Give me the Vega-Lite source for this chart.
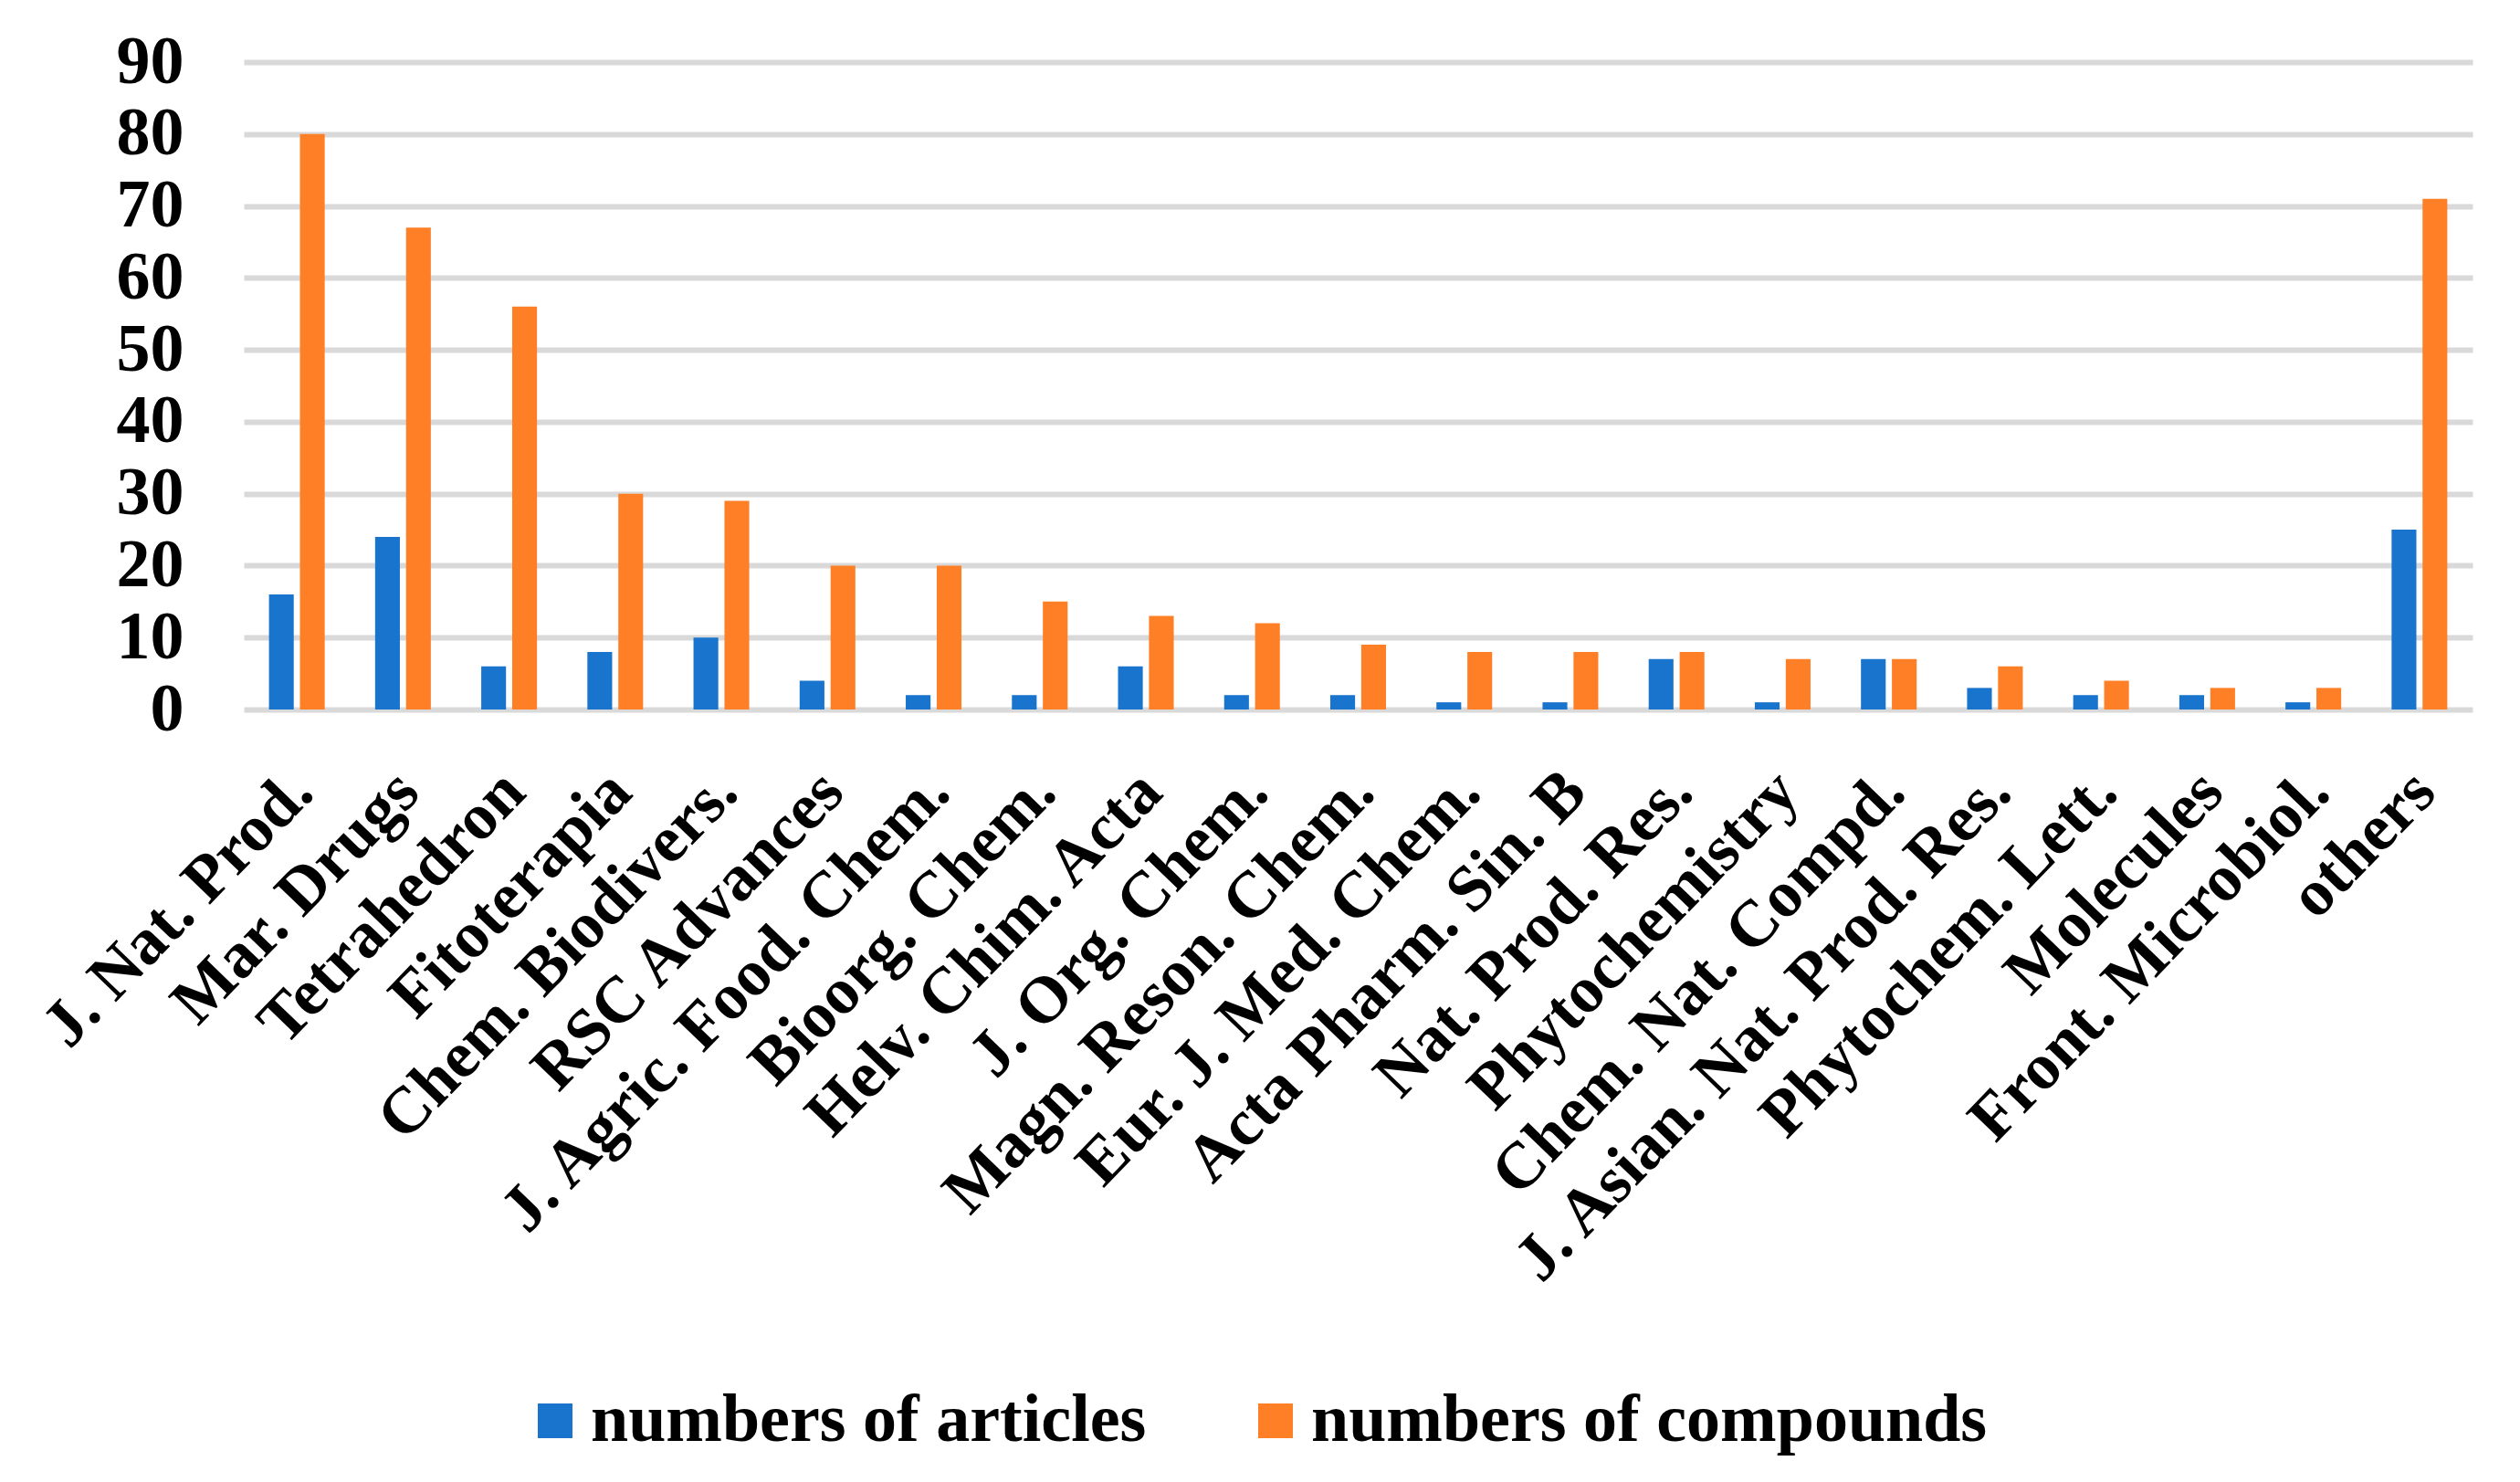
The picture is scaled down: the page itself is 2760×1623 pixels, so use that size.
{
  "$schema": "https://vega.github.io/schema/vega-lite/v6.json",
  "width": 2441,
  "height": 709,
  "autosize": {"type": "none"},
  "padding": {"left": 267, "top": 68, "right": 52, "bottom": 846},
  "background": "white",
  "data": {
    "values": [
      {"journal": "J. Nat. Prod.", "series": "numbers of articles", "value": 16},
      {"journal": "J. Nat. Prod.", "series": "numbers of compounds", "value": 80},
      {"journal": "Mar. Drugs", "series": "numbers of articles", "value": 24},
      {"journal": "Mar. Drugs", "series": "numbers of compounds", "value": 67},
      {"journal": "Tetrahedron", "series": "numbers of articles", "value": 6},
      {"journal": "Tetrahedron", "series": "numbers of compounds", "value": 56},
      {"journal": "Fitoterapia", "series": "numbers of articles", "value": 8},
      {"journal": "Fitoterapia", "series": "numbers of compounds", "value": 30},
      {"journal": "Chem. Biodivers.", "series": "numbers of articles", "value": 10},
      {"journal": "Chem. Biodivers.", "series": "numbers of compounds", "value": 29},
      {"journal": "RSC Advances", "series": "numbers of articles", "value": 4},
      {"journal": "RSC Advances", "series": "numbers of compounds", "value": 20},
      {"journal": "J. Agric. Food. Chem.", "series": "numbers of articles", "value": 2},
      {"journal": "J. Agric. Food. Chem.", "series": "numbers of compounds", "value": 20},
      {"journal": "Bioorg. Chem.", "series": "numbers of articles", "value": 2},
      {"journal": "Bioorg. Chem.", "series": "numbers of compounds", "value": 15},
      {"journal": "Helv. Chim. Acta", "series": "numbers of articles", "value": 6},
      {"journal": "Helv. Chim. Acta", "series": "numbers of compounds", "value": 13},
      {"journal": "J. Org. Chem.", "series": "numbers of articles", "value": 2},
      {"journal": "J. Org. Chem.", "series": "numbers of compounds", "value": 12},
      {"journal": "Magn. Reson. Chem.", "series": "numbers of articles", "value": 2},
      {"journal": "Magn. Reson. Chem.", "series": "numbers of compounds", "value": 9},
      {"journal": "Eur. J. Med. Chem.", "series": "numbers of articles", "value": 1},
      {"journal": "Eur. J. Med. Chem.", "series": "numbers of compounds", "value": 8},
      {"journal": "Acta Pharm. Sin. B", "series": "numbers of articles", "value": 1},
      {"journal": "Acta Pharm. Sin. B", "series": "numbers of compounds", "value": 8},
      {"journal": "Nat. Prod. Res.", "series": "numbers of articles", "value": 7},
      {"journal": "Nat. Prod. Res.", "series": "numbers of compounds", "value": 8},
      {"journal": "Phytochemistry", "series": "numbers of articles", "value": 1},
      {"journal": "Phytochemistry", "series": "numbers of compounds", "value": 7},
      {"journal": "Chem. Nat. Compd.", "series": "numbers of articles", "value": 7},
      {"journal": "Chem. Nat. Compd.", "series": "numbers of compounds", "value": 7},
      {"journal": "J. Asian. Nat. Prod. Res.", "series": "numbers of articles", "value": 3},
      {"journal": "J. Asian. Nat. Prod. Res.", "series": "numbers of compounds", "value": 6},
      {"journal": "Phytochem. Lett.", "series": "numbers of articles", "value": 2},
      {"journal": "Phytochem. Lett.", "series": "numbers of compounds", "value": 4},
      {"journal": "Molecules", "series": "numbers of articles", "value": 2},
      {"journal": "Molecules", "series": "numbers of compounds", "value": 3},
      {"journal": "Front. Microbiol.", "series": "numbers of articles", "value": 1},
      {"journal": "Front. Microbiol.", "series": "numbers of compounds", "value": 3},
      {"journal": "others", "series": "numbers of articles", "value": 25},
      {"journal": "others", "series": "numbers of compounds", "value": 71}
    ]
  },
  "mark": {"type": "bar"},
  "encoding": {
    "x": {
      "field": "journal",
      "type": "nominal",
      "sort": null,
      "scale": {"paddingInner": 0.475, "paddingOuter": 0.2375},
      "axis": {
        "title": null,
        "labelAngle": -46,
        "labelAlign": "right",
        "labelBaseline": "middle",
        "labelFont": "Liberation Serif",
        "labelFontWeight": "bold",
        "labelFontSize": 72,
        "labelColor": "black",
        "labelPadding": 78,
        "labelOffset": 5,
        "ticks": false,
        "tickSize": 0,
        "domain": false,
        "grid": false,
        "labelOverlap": false,
        "labelLimit": 0
      }
    },
    "xOffset": {
      "field": "series",
      "type": "nominal",
      "sort": ["numbers of articles", "numbers of compounds"],
      "scale": {"paddingInner": 0.2, "paddingOuter": 0}
    },
    "y": {
      "field": "value",
      "type": "quantitative",
      "scale": {"domain": [0, 90], "nice": false},
      "axis": {
        "title": null,
        "values": [0, 10, 20, 30, 40, 50, 60, 70, 80, 90],
        "labelFont": "Liberation Serif",
        "labelFontWeight": "bold",
        "labelFontSize": 74,
        "labelColor": "black",
        "labelPadding": 66,
        "ticks": false,
        "tickSize": 0,
        "domain": false,
        "grid": true,
        "gridColor": "#d9d9d9",
        "gridWidth": 6
      }
    },
    "color": {
      "field": "series",
      "type": "nominal",
      "scale": {
        "domain": ["numbers of articles", "numbers of compounds"],
        "range": ["#1874cd", "#ff7f27"]
      },
      "legend": {
        "title": null,
        "orient": "none",
        "direction": "horizontal",
        "legendX": 304,
        "legendY": 1451,
        "padding": 0,
        "symbolType": "square",
        "symbolSize": 1444,
        "symbolStrokeWidth": 0,
        "labelFont": "Liberation Serif",
        "labelFontWeight": "bold",
        "labelFontSize": 74,
        "labelColor": "black",
        "labelOffset": 2,
        "labelLimit": 0,
        "columnPadding": 104
      }
    }
  },
  "config": {
    "view": {"stroke": null}
  }
}
